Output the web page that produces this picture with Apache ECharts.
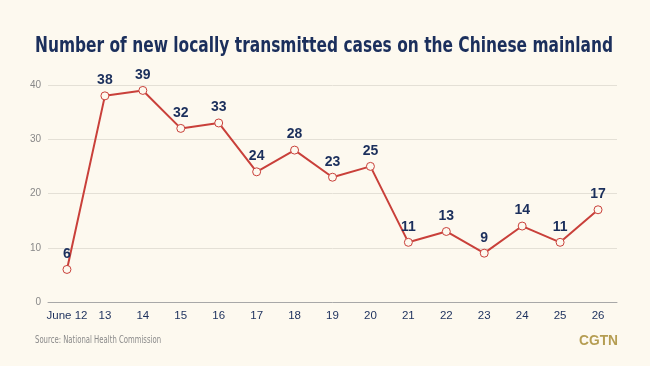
<!DOCTYPE html>
<html><head><meta charset="utf-8">
<script src="https://cdn.jsdelivr.net/npm/echarts@6/dist/echarts.min.js"></script>
<style>html,body{margin:0;padding:0;background:#fdf9ef;}#c{width:650px;height:366px;}</style>
</head><body><div id="c"></div>
<script>
const categories = ['June 12','13','14','15','16','17','18','19','20','21','22','23','24','25','26'];
const cases = [6,38,39,32,33,24,28,23,25,11,13,9,14,11,17];
const yTicks = [0,10,20,30,40];
const titleText = 'Number of new locally transmitted cases on the Chinese mainland';
const sourceText = 'Source: National Health Commission';
const brandText = 'CGTN';

const F = '"DejaVu Sans", sans-serif';
const L = '"Liberation Sans", sans-serif';
const ctx = document.createElement('canvas').getContext('2d');
function measure(t, font){ ctx.font = font; return ctx.measureText(t).width; }
function fitText(t, x, y, targetW, size, weight, color, family){
  const w = measure(t, weight + ' ' + size + 'px ' + family);
  return {type: 'text', x: x, y: y, scaleX: targetW / w, originX: 0, originY: 0,
    style: {text: t, fontSize: size, fontWeight: weight, fontFamily: family, fill: color,
      textVerticalAlign: 'middle', textAlign: 'left'}};
}

const chart = echarts.init(document.getElementById('c'));
chart.setOption({
  backgroundColor: '#fdf9ef',
  animation: false,
  graphic: [
    fitText(titleText, 35, 46, 578, 22, 'bold', '#1b2f5c', F),
    fitText(sourceText, 35, 340, 126, 10, 'normal', '#8a8a8a', F),
    fitText(brandText, 579, 341, 39, 14, 'bold', '#b59d52', L)
  ],
  grid: {left: 48, right: 33, top: 85, bottom: 64},
  xAxis: {
    type: 'category', data: categories, boundaryGap: true,
    axisLine: {lineStyle: {color: '#a8a8a8', width: 1}},
    axisTick: {alignWithLabel: true, length: 5, lineStyle: {color: '#a8a8a8'}},
    axisLabel: {interval: 0, color: '#1b2f5c', fontFamily: L, fontSize: 11.5, margin: 8}
  },
  yAxis: {
    type: 'value', min: yTicks[0], max: yTicks[yTicks.length-1], interval: 10,
    axisLine: {show: false}, axisTick: {show: false},
    axisLabel: {color: '#888', fontFamily: L, fontSize: 10, margin: 7},
    splitLine: {lineStyle: {color: '#e4e0d6', width: 1}}
  },
  series: [{
    type: 'line', data: cases,
    symbol: 'circle', symbolSize: 8,
    itemStyle: {color: '#fdf9ef', borderColor: '#c9403a', borderWidth: 1},
    lineStyle: {color: '#c9403a', width: 2},
    label: {show: true, position: 'top', distance: 4, color: '#1b2f5c', fontFamily: L, fontWeight: 'bold', fontSize: 14}
  }]
});
</script></body></html>
